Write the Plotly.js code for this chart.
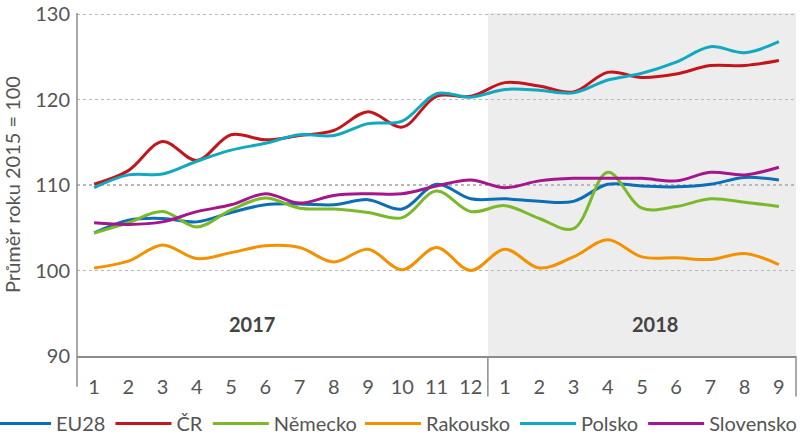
<!DOCTYPE html>
<html>
<head>
<meta charset="utf-8">
<script src="https://cdn.plot.ly/plotly-3.0.1.min.js"></script>
<style>
  html, body { margin: 0; padding: 0; background: #fff; }
  #chart { width: 800px; height: 437px; }
</style>
</head>
<body>
<div id="chart"></div>
<script>
// Month labels (2017: 1–12, 2018: 1–9)
const monthLabels = ["1","2","3","4","5","6","7","8","9","10","11","12","1","2","3","4","5","6","7","8","9"];
const yearLabels = ["2017", "2018"];

const seriesNames = ["EU28", "ČR", "Německo", "Rakousko", "Polsko", "Slovensko"];

const eu28      = [104.4,105.9,106.1,105.7,106.8,107.7,107.8,107.7,108.3,107.2,110.1,108.4,108.4,108.1,108.1,110.1,109.9,109.8,110.1,110.9,110.6];
const cr        = [110.1,111.7,115.1,112.9,115.9,115.3,115.8,116.4,118.6,116.8,120.4,120.4,122.0,121.6,120.9,123.2,122.6,123.0,124.0,124.0,124.6];
const nemecko   = [104.4,105.6,106.9,105.1,107.1,108.5,107.3,107.2,106.8,106.2,109.3,106.9,107.6,106.1,104.9,111.5,107.3,107.5,108.4,108.0,107.5];
const rakousko  = [100.3,101.1,103.0,101.4,102.1,102.9,102.7,101.0,102.5,100.1,102.7,100.0,102.5,100.3,101.6,103.6,101.6,101.5,101.3,102.0,100.7];
const polsko    = [109.7,111.2,111.3,112.8,114.1,114.9,115.9,115.8,117.2,117.5,120.7,120.3,121.2,121.1,120.8,122.3,123.1,124.4,126.2,125.5,126.8];
const slovensko = [105.6,105.4,105.7,106.9,107.7,109.0,107.9,108.8,109.0,109.0,109.9,110.6,109.7,110.5,110.8,110.8,110.8,110.5,111.5,111.2,112.1];

const yTicks = [90, 100, 110, 120, 130];

const seriesValues = [eu28, cr, nemecko, rakousko, polsko, slovensko];
const seriesColors = ["#0b6fb8", "#c3161c", "#7ab929", "#f39200", "#10a9bf", "#a3168c"];

const xIdx = monthLabels.map((_, i) => i);

const traces = seriesNames.map((name, k) => ({
  type: "scatter",
  mode: "lines",
  name: name,
  legend: k < 3 ? "legend" : "legend2",
  x: xIdx,
  y: seriesValues[k],
  line: { color: seriesColors[k], width: 3, shape: "spline", smoothing: 1 },
  hoverinfo: "skip"
}));

const FONT = "Lato, 'Open Sans', sans-serif";
const nFirst = 12;
const nTotal = monthLabels.length;
const splitPaper = nFirst / nTotal;

const legendCommon = {
  orientation: "h",
  xanchor: "left",
  y: -0.197, yanchor: "middle",
  itemwidth: 56,
  font: { family: FONT, size: 20, color: "#555555" },
  traceorder: "normal",
  bgcolor: "rgba(0,0,0,0)"
};

const layout = {
  width: 800,
  height: 437,
  margin: { l: 77, r: 4, t: 13, b: 81, autoexpand: false },
  paper_bgcolor: "#ffffff",
  plot_bgcolor: "#ffffff",
  font: { family: FONT, size: 20, color: "#555555" },
  showlegend: true,
  legend: Object.assign({}, legendCommon, { x: -0.121 }),
  legend2: Object.assign({}, legendCommon, { x: 0.3936 }),
  xaxis: {
    type: "linear",
    range: [-0.5, nTotal - 0.5],
    tickmode: "array",
    tickvals: xIdx,
    ticktext: monthLabels,
    showgrid: false,
    zeroline: false,
    showline: true,
    linecolor: "#8c8c8c",
    linewidth: 1.5,
    ticks: "",
    ticklabelstandoff: 12,
    tickfont: { family: FONT, size: 20, color: "#555555" },
    fixedrange: true
  },
  yaxis: {
    range: [90, 130.15],
    tickmode: "array",
    tickvals: yTicks,
    ticktext: yTicks.map(String),
    ticklabeloverflow: "allow",
    showgrid: true,
    gridcolor: "#b8b8b8",
    griddash: "dot",
    gridwidth: 1.5,
    zeroline: false,
    showline: false,
    ticks: "",
    ticklabelstandoff: 6,
    tickfont: { family: FONT, size: 20, color: "#555555" },
    title: { text: "Průměr roku 2015 = 100", font: { family: FONT, size: 20, color: "#555555" }, standoff: 10 },
    fixedrange: true
  },
  shapes: [
    { type: "rect", xref: "paper", yref: "paper", x0: splitPaper, x1: 1, y0: 0, y1: 1,
      fillcolor: "#ededed", line: { width: 0 }, layer: "below" },
    { type: "line", xref: "paper", yref: "paper", x0: 0, x1: 0, y0: -0.09, y1: 1,
      line: { color: "#8c8c8c", width: 1.5 } },
    { type: "line", xref: "paper", yref: "paper", x0: splitPaper, x1: splitPaper, y0: -0.118, y1: 0,
      line: { color: "#8c8c8c", width: 1.5 } },
    { type: "line", xref: "paper", yref: "paper", x0: 1, x1: 1, y0: -0.118, y1: 0,
      line: { color: "#8c8c8c", width: 1.5 } }
  ],
  annotations: [
    { xref: "x", yref: "y", x: 4.6, y: 93.8, text: "<b>" + yearLabels[0] + "</b>", showarrow: false,
      font: { family: FONT, size: 20, color: "#444444" } },
    { xref: "x", yref: "y", x: 16.37, y: 93.8, text: "<b>" + yearLabels[1] + "</b>", showarrow: false,
      font: { family: FONT, size: 20, color: "#444444" } }
  ]
};

Plotly.newPlot("chart", traces, layout, { displayModeBar: false, staticPlot: true });
</script>
</body>
</html>
